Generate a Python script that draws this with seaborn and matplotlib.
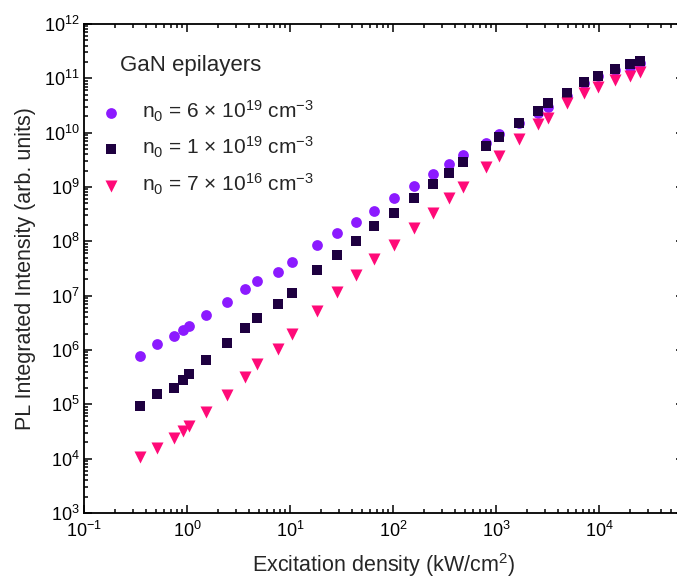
import numpy as np
import pandas as pd
import matplotlib
matplotlib.use("Agg")
import matplotlib.pyplot as plt
import matplotlib.ticker as mticker
import seaborn as sns

# excitation density (kW/cm2), shared by the three samples
density = [0.35, 0.51, 0.75, 0.91, 1.04, 1.53, 2.44, 3.65, 4.8, 7.6, 10.4, 18.3,
           28.6, 43.7, 65.5, 102, 160, 242, 350, 473, 800, 1070, 1680, 2540,
           3200, 4890, 7140, 9780, 14300, 20000, 25000]

# PL integrated intensity (arb. units)
int_6e19 = [7.7e5, 1.29e6, 1.82e6, 2.34e6, 2.74e6, 4.5e6, 7.7e6, 1.32e7, 1.83e7,
            2.67e7, 4.19e7, 8.4e7, 1.40e8, 2.29e8, 3.65e8, 6.4e8, 1.05e9, 1.71e9,
            2.64e9, 3.82e9, 6.5e9, 9.3e9, 1.50e10, 2.32e10, 2.96e10, 4.8e10,
            8.1e10, 1.10e11, 1.42e11, 1.64e11, 1.94e11]
int_1e19 = [9.4e4, 1.53e5, 2.0e5, 2.86e5, 3.69e5, 6.5e5, 1.37e6, 2.55e6, 3.85e6,
            7.1e6, 1.13e7, 2.92e7, 5.6e7, 1.02e8, 1.91e8, 3.3e8, 6.4e8, 1.12e9,
            1.83e9, 2.84e9, 5.7e9, 8.4e9, 1.50e10, 2.53e10, 3.56e10, 5.4e10,
            8.6e10, 1.10e11, 1.47e11, 1.81e11, 2.08e11]
int_7e16 = [1.07e4, 1.6e4, 2.4e4, 3.29e4, 3.95e4, 7.2e4, 1.49e5, 3.2e5, 5.5e5,
            1.05e6, 1.93e6, 5.2e6, 1.15e7, 2.45e7, 4.66e7, 8.7e7, 1.75e8, 3.35e8,
            6.3e8, 1.01e9, 2.35e9, 3.76e9, 7.5e9, 1.42e10, 1.88e10, 3.56e10,
            5.4e10, 7.0e10, 9.3e10, 1.10e11, 1.31e11]

labels = [r"n$_0$ = 6 × 10$^{19}$ cm$^{-3}$",
          r"n$_0$ = 1 × 10$^{19}$ cm$^{-3}$",
          r"n$_0$ = 7 × 10$^{16}$ cm$^{-3}$"]
colors = ["#8c1aff", "#1e0040", "#ff0a78"]
markers = ["o", "s", "v"]
sizes = [60, 55, 75]

sns.set_style("ticks")
plt.rcParams["font.family"] = ["Liberation Sans", "DejaVu Sans"]
plt.rcParams["mathtext.fontset"] = "custom"
plt.rcParams["mathtext.rm"] = "Liberation Sans"
plt.rcParams["mathtext.it"] = "Liberation Sans:italic"
plt.rcParams["mathtext.bf"] = "Liberation Sans:bold"
plt.rcParams["axes.unicode_minus"] = False

fig = plt.figure(figsize=(6.77, 5.81), dpi=100)
ax = fig.add_axes([84 / 677, 68 / 581, 600 / 677, 489 / 581])

for vals, lab, c, m, s in zip([int_6e19, int_1e19, int_7e16], labels, colors, markers, sizes):
    df = pd.DataFrame({"x": density, "y": vals})
    sns.scatterplot(data=df, x="x", y="y", ax=ax, color=c, marker=m, s=s,
                    linewidth=0, label=lab)

ax.set_xscale("log")
ax.set_yscale("log")
ax.set_xlim(0.1, 10 ** (-1 + 600 / 103))
ax.set_ylim(1e3, 1e12)

ax.xaxis.set_major_locator(mticker.LogLocator(base=10, numticks=20))
ax.yaxis.set_major_locator(mticker.LogLocator(base=10, numticks=20))
ax.xaxis.set_minor_locator(mticker.LogLocator(base=10, subs=np.arange(2, 10), numticks=100))
ax.yaxis.set_minor_locator(mticker.LogLocator(base=10, subs=np.arange(2, 10), numticks=100))
ax.xaxis.set_minor_formatter(mticker.NullFormatter())
ax.yaxis.set_minor_formatter(mticker.NullFormatter())

ax.tick_params(which="both", direction="in", top=True, right=True, width=1.1, colors="black")
ax.tick_params(which="major", length=6, labelsize=13)
ax.tick_params(which="minor", length=3)
ax.tick_params(axis="x", which="major", pad=6)
ax.tick_params(axis="y", which="major", pad=3)
for sp in ax.spines.values():
    sp.set_linewidth(1.3)
    sp.set_color("black")

ax.set_xlabel("Excitation density (kW/cm$^2$)", fontsize=15.5, labelpad=7)
ax.set_ylabel("PL Integrated Intensity (arb. units)", fontsize=15.5, labelpad=6)

ax.text(0.06, 0.916, "GaN epilayers", transform=ax.transAxes, fontsize=16, va="center", ha="left")
ax.legend(loc="upper left", bbox_to_anchor=(0.0277, 0.848), frameon=False, fontsize=15,
          handlelength=1.0, handletextpad=1.0, labelspacing=0.55, borderpad=0,
          borderaxespad=0)

fig.savefig("out.png", dpi=100)
